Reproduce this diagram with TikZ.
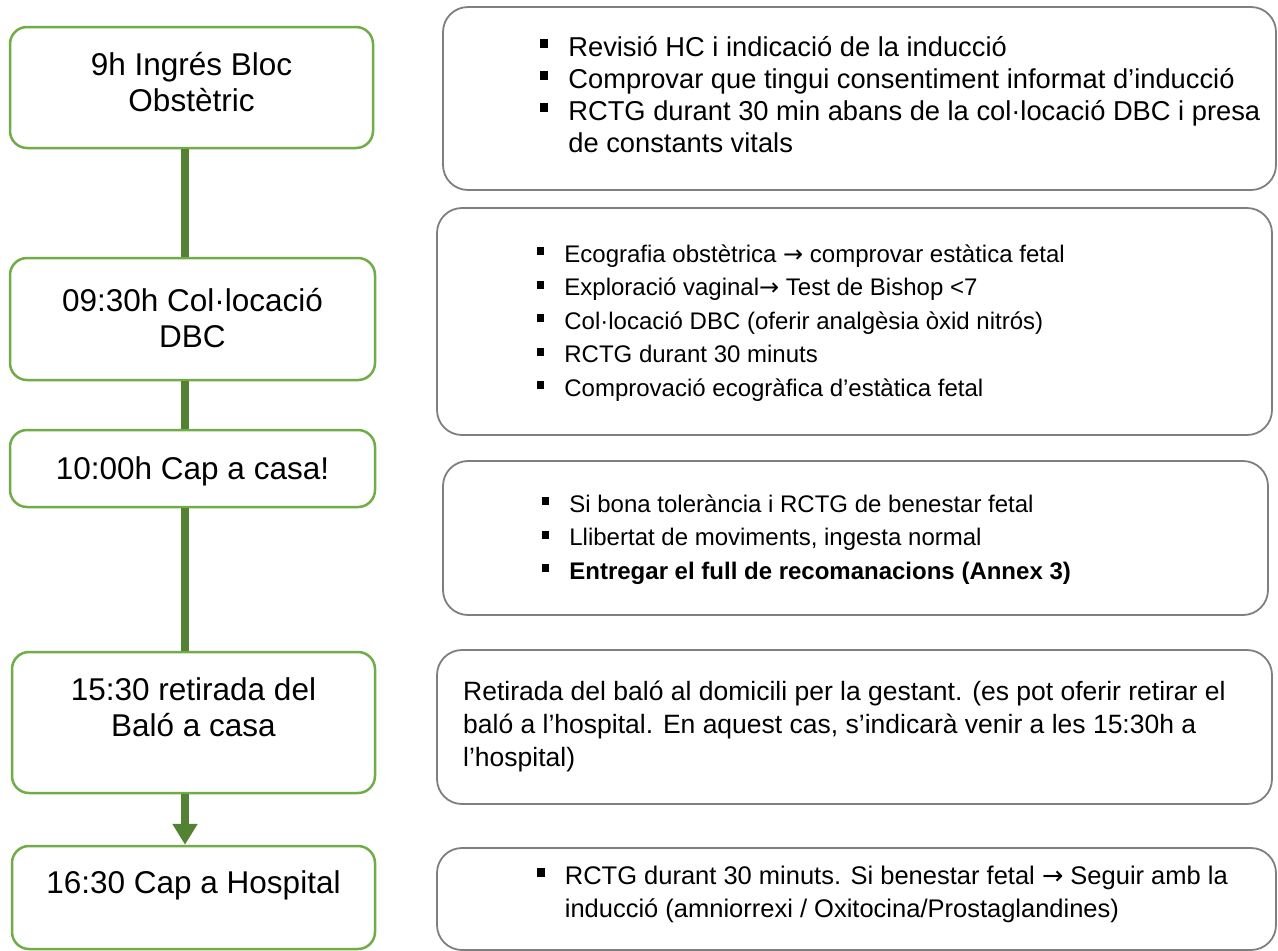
\documentclass[tikz,border=0pt]{standalone}
\usepackage{fontspec}
\setmainfont{Liberation Sans}
\newfontfamily\arrfont{DejaVu Sans}
\usetikzlibrary{arrows.meta}
\definecolor{boxgreen}{HTML}{70AD47}
\definecolor{linegreen}{HTML}{548235}
\definecolor{boxgray}{HTML}{7F7F7F}
\newcommand{\bul}{\rule[0.29em]{0.3em}{0.32em}}
\newcommand{\rarr}{{\arrfont →}}
\begin{document}
\begin{tikzpicture}[x=1pt,y=-1pt,
  lbox/.style={draw=boxgreen, line width=2.5pt, rounded corners=17pt, fill=white, inner sep=0pt},
  rbox/.style={draw=boxgray, line width=1.8pt, rounded corners=25pt, inner sep=0pt},
  ltext/.style={inner sep=0pt, anchor=base, font=\fontsize{31.5}{36.5}\selectfont},
  rtext/.style={inner sep=0pt, anchor=base west},
  conn/.style={draw=linegreen, line width=8.5pt}]
\useasboundingbox (0,0) rectangle (1278,951);
\fill[white] (0,0) rectangle (1278,951);
\coordinate (cx) at (185,0);

% left boxes
\node[lbox, minimum width=363pt, minimum height=121pt] (L1) at (191.5,87.5) {};
\node[lbox, minimum width=365pt, minimum height=122pt] (L2) at (192.5,319) {};
\node[lbox, minimum width=365pt, minimum height=77pt] (L3) at (192.5,468.5) {};
\node[lbox, minimum width=363pt, minimum height=141pt] (L4) at (193.5,722.5) {};
\node[lbox, minimum width=363pt, minimum height=103pt] (L5) at (193.5,897.5) {};

% connectors
\draw[conn] (L1.south -| cx) -- (L2.north -| cx);
\draw[conn] (L2.south -| cx) -- (L3.north -| cx);
\draw[conn] (L3.south -| cx) -- (L4.north -| cx);
\draw[conn, -{Triangle[width=24pt,length=21pt]}] (L4.south -| cx) -- (L5.north -| cx);

% left texts
\node[ltext] (T1) at (191.5,75) {\begin{tabular}[t]{@{}c@{}}9h Ingrés Bloc\\Obstètric\end{tabular}};
\node[ltext] (T2) at (192.5,311) {\begin{tabular}[t]{@{}c@{}}09:30h Col·locació\\DBC\end{tabular}};
\node[ltext] (T3) at (192.5,479) {10:00h Cap a casa!};
\node[ltext] (T4) at (193.5,700) {\begin{tabular}[t]{@{}c@{}}15:30 retirada del\\Baló a casa\end{tabular}};
\node[ltext] (T5) at (193.5,893) {16:30 Cap a Hospital};

% right boxes
\node[rbox, minimum width=833pt, minimum height=183pt] (R1) at (859.5,98.5) {};
\node[rbox, minimum width=835pt, minimum height=227pt] (R2) at (854.5,321.5) {};
\node[rbox, minimum width=825pt, minimum height=154pt] (R3) at (855.5,538) {};
\node[rbox, minimum width=835pt, minimum height=154pt] (R4) at (854.5,727) {};
\node[rbox, minimum width=839pt, minimum height=102pt] (R5) at (856.5,899) {};

% right texts
\node[rtext, font=\fontsize{27.3}{32}\selectfont] (S1) at (540,56) {\begin{tabular}[t]{@{}l@{\hspace{20pt}}l@{}}
\bul & Revisió HC i indicació de la inducció\\
\bul & Comprovar que tingui consentiment informat d’inducció\\
\bul & RCTG durant 30 min abans de la col·locació DBC i presa\\
 & de constants vitals
\end{tabular}};
\node[rtext, font=\fontsize{24}{33.5}\selectfont] (S2) at (537,262) {\begin{tabular}[t]{@{}l@{\hspace{20pt}}l@{}}
\bul & Ecografia obstètrica \rarr\ comprovar estàtica fetal\\
\bul & Exploració vaginal\rarr\ Test de Bishop <7\\
\bul & Col·locació DBC (oferir analgèsia òxid nitrós)\\
\bul & RCTG durant 30 minuts\\
\bul & Comprovació ecogràfica d’estàtica fetal
\end{tabular}};
\node[rtext, font=\fontsize{24}{33.5}\selectfont] (S3) at (542,512) {\begin{tabular}[t]{@{}l@{\hspace{20pt}}l@{}}
\bul & Si bona tolerància i RCTG de benestar fetal\\
\bul & Llibertat de moviments, ingesta normal\\
\bul & \textbf{Entregar el full de recomanacions (Annex 3)}
\end{tabular}};
\node[rtext, font=\fontsize{26.5}{33}\selectfont] (S4) at (463,700) {\begin{tabular}[t]{@{}l@{}}
Retirada del baló al domicili per la gestant. (es pot oferir retirar el\\
baló a l’hospital. En aquest cas, s’indicarà venir a les 15:30h a\\
l’hospital)
\end{tabular}};
\node[rtext, font=\fontsize{25.5}{33}\selectfont] (S5) at (537,884) {\begin{tabular}[t]{@{}l@{\hspace{20pt}}l@{}}
\bul & RCTG durant 30 minuts. Si benestar fetal \rarr\ Seguir amb la\\
 & inducció (amniorrexi / Oxitocina/Prostaglandines)
\end{tabular}};
\end{tikzpicture}
\end{document}
